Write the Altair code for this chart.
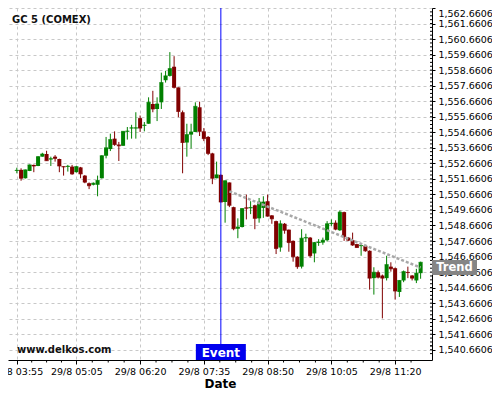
import altair as alt
import pandas as pd

# ---- data (5-minute candles, GC 5 COMEX, 29/8) ----
open_ = [1552.17, 1552.24, 1551.70, 1552.17, 1552.56, 1552.49, 1553.09, 1553.26, 1552.91, 1553.09,
         1552.94, 1552.47, 1552.43, 1552.45, 1552.09, 1552.40, 1551.87, 1551.38, 1551.28, 1551.28,
         1551.70, 1553.15, 1553.58, 1554.25, 1553.87, 1553.79, 1554.70, 1554.91, 1554.91, 1555.57,
         1555.08, 1555.21, 1556.48, 1556.16, 1556.59, 1558.01, 1558.29, 1558.88, 1557.55, 1555.95,
         1554.00, 1554.51, 1554.68, 1556.27, 1554.72, 1554.36, 1553.30, 1551.70, 1551.92, 1550.17,
         1551.43, 1549.84, 1548.45, 1548.56, 1549.82, 1549.77, 1549.96, 1549.12, 1549.79, 1550.22,
         1549.31, 1548.94, 1547.24, 1548.77, 1548.39, 1547.67, 1546.65, 1546.01, 1547.84, 1547.88,
         1546.86, 1547.54, 1547.56, 1547.71, 1548.75, 1548.84, 1548.35, 1549.52, 1547.88, 1547.71,
         1547.46, 1547.33, 1547.35, 1547.03, 1545.27, 1545.65, 1545.44, 1545.27, 1546.01, 1545.91,
         1544.38, 1545.12, 1545.67, 1545.44, 1545.12, 1545.59]
high_ = [1552.38, 1552.34, 1552.26, 1552.58, 1552.58, 1553.12, 1553.34, 1553.47, 1553.09, 1553.19,
         1552.96, 1552.47, 1552.56, 1552.56, 1552.48, 1552.43, 1551.91, 1551.43, 1551.43, 1551.87,
         1553.18, 1554.36, 1554.57, 1554.72, 1554.04, 1554.72, 1555.00, 1555.14, 1555.95, 1555.74,
         1555.32, 1556.91, 1557.33, 1556.91, 1558.50, 1558.61, 1559.82, 1559.56, 1557.55, 1556.06,
         1555.21, 1555.21, 1556.59, 1556.63, 1554.93, 1554.42, 1553.34, 1552.77, 1551.94, 1551.56,
         1551.43, 1549.87, 1549.12, 1549.77, 1550.65, 1550.22, 1550.00, 1550.43, 1550.54, 1550.65,
         1549.33, 1548.97, 1548.99, 1548.82, 1548.40, 1547.70, 1546.68, 1548.42, 1548.13, 1547.92,
         1547.60, 1547.78, 1547.88, 1548.94, 1549.05, 1548.99, 1549.63, 1549.55, 1547.92, 1548.20,
         1547.48, 1547.46, 1547.38, 1547.06, 1545.97, 1545.76, 1545.50, 1546.71, 1546.29, 1545.95,
         1545.15, 1545.76, 1546.01, 1545.47, 1545.87, 1546.33]
low_ = [1552.02, 1551.54, 1551.68, 1552.16, 1552.09, 1552.48, 1553.09, 1552.83, 1552.49, 1552.77,
        1552.09, 1551.87, 1552.13, 1551.92, 1552.07, 1551.70, 1551.38, 1551.00, 1551.24, 1550.54,
        1551.68, 1552.98, 1553.45, 1553.79, 1552.81, 1553.79, 1554.19, 1554.25, 1554.25, 1554.68,
        1554.72, 1555.21, 1555.95, 1555.38, 1556.16, 1557.86, 1558.25, 1557.48, 1555.63, 1552.02,
        1553.09, 1553.61, 1554.68, 1554.42, 1554.09, 1553.19, 1551.32, 1551.70, 1550.15, 1548.84,
        1549.84, 1548.35, 1547.84, 1548.53, 1549.05, 1549.39, 1548.42, 1548.84, 1549.15, 1549.23,
        1548.77, 1546.82, 1546.97, 1548.13, 1546.97, 1546.33, 1545.87, 1545.89, 1547.61, 1546.59,
        1546.29, 1547.35, 1547.42, 1547.63, 1548.63, 1548.35, 1548.31, 1547.67, 1547.67, 1547.35,
        1547.22, 1546.71, 1546.97, 1544.53, 1544.21, 1545.25, 1542.68, 1545.12, 1545.69, 1543.89,
        1544.06, 1545.01, 1545.27, 1545.12, 1544.95, 1545.23]
close_ = [1552.21, 1551.70, 1552.24, 1552.56, 1552.49, 1553.09, 1553.26, 1552.83, 1552.96, 1552.98,
          1552.49, 1552.43, 1552.47, 1551.98, 1552.45, 1551.98, 1551.45, 1551.22, 1551.38, 1551.56,
          1553.15, 1553.66, 1554.19, 1553.87, 1553.79, 1554.72, 1554.74, 1554.95, 1554.95, 1554.93,
          1555.12, 1556.59, 1556.16, 1556.48, 1557.86, 1558.29, 1558.76, 1557.55, 1556.00, 1554.00,
          1554.51, 1554.68, 1556.33, 1554.72, 1554.25, 1553.30, 1551.70, 1551.92, 1550.17, 1551.54,
          1549.96, 1548.45, 1548.56, 1549.75, 1549.77, 1549.82, 1549.12, 1550.17, 1550.17, 1549.26,
          1549.09, 1547.18, 1548.77, 1548.35, 1547.56, 1546.65, 1546.01, 1547.84, 1547.88, 1546.71,
          1547.56, 1547.59, 1547.71, 1548.77, 1548.80, 1548.42, 1549.52, 1547.94, 1547.71, 1547.40,
          1547.24, 1547.37, 1547.03, 1545.27, 1545.65, 1545.33, 1545.27, 1546.14, 1545.87, 1544.44,
          1545.12, 1545.69, 1545.63, 1545.27, 1545.59, 1546.29]

times = pd.date_range("2019-08-29 03:55", periods=len(open_), freq="5min")

trend_times = ["2019-08-29T08:05:00Z", "2019-08-29T11:50:00Z"]
trend_values = [1550.86, 1545.95]
event_time = ["2019-08-29T07:55:00Z"]

y_ticks = [1540.6606, 1541.6606, 1542.6606, 1543.6606, 1544.6606, 1545.6606, 1546.6606,
           1547.6606, 1548.6606, 1549.6606, 1550.6606, 1551.6606, 1552.6606, 1553.6606,
           1554.6606, 1555.6606, 1556.6606, 1557.6606, 1558.6606, 1559.6606, 1560.6606,
           1561.6606, 1562.6606]
x_tick_times = [(3, 55), (5, 5), (6, 20), (7, 35), (8, 50), (10, 5), (11, 20)]
x_minor_times = ["2019-08-29T04:12:30Z", "2019-08-29T04:30:00Z", "2019-08-29T04:47:30Z",
                 "2019-08-29T05:23:45Z", "2019-08-29T05:42:30Z", "2019-08-29T06:01:15Z",
                 "2019-08-29T06:38:45Z", "2019-08-29T06:57:30Z", "2019-08-29T07:16:15Z",
                 "2019-08-29T07:53:45Z", "2019-08-29T08:12:30Z", "2019-08-29T08:31:15Z",
                 "2019-08-29T09:08:45Z", "2019-08-29T09:27:30Z", "2019-08-29T09:46:15Z",
                 "2019-08-29T10:23:45Z", "2019-08-29T10:42:30Z", "2019-08-29T11:01:15Z",
                 "2019-08-29T11:38:45Z"]
y_minor_ticks = [t + k for t in [1540.4106] + y_ticks[:-1] for k in (0.0, 0.5)] + \
                [t + k for t in y_ticks[:-1] for k in (0.25, 0.75)]

title_text = "GC 5 (COMEX)"
site_text = "www.delkos.com"

# ---- layout ----
W, H = 424, 352
FONT = "DejaVu Sans"
GREEN, RED = "#008000", "#800000"

df = pd.DataFrame({
    "t": times.strftime("%Y-%m-%dT%H:%M:%SZ"),
    "open": open_, "high": high_, "low": low_, "close": close_,
})
df["dir"] = ["up" if c >= o else "down" for o, c in zip(open_, close_)]

trend_df = pd.DataFrame({"t": trend_times, "v": trend_values})
event_df = pd.DataFrame({"t": event_time, "label": ["Event"]})
trend_lbl_df = pd.DataFrame({"v": [trend_values[-1]], "label": ["Trend"]})
xminor_df = pd.DataFrame({"t": x_minor_times})
yminor_df = pd.DataFrame({"v": [v for v in y_minor_ticks if 1540.0 <= v <= 1562.6606]})


def dt(h, m, s=0):
    return alt.DateTime(year=2019, month=8, date=29, hours=h, minutes=m, seconds=s, utc=True)


xscale = alt.Scale(type="utc", domain=[dt(3, 50, 30), dt(11, 57, 30)])
xaxis = alt.Axis(values=[dt(h, m) for h, m in x_tick_times], format="%-d/%-m %H:%M",
                 title="Date", titleFont=FONT, titleFontSize=12, titleFontWeight="bold",
                 titleColor="black", titlePadding=3,
                 labelFont=FONT, labelFontSize=9.5, labelColor="black", labelPadding=2,
                 labelFlush=False, labelOverlap=False,
                 tickSize=4, tickColor="black", domainColor="black",
                 grid=True, gridDash=[3, 3], gridColor="#c8c8c8")
yscale = alt.Scale(domain=[1540.0, 1562.6606], nice=False, zero=False)
yaxis = alt.Axis(orient="right", values=y_ticks, format=",.4f", title=None,
                 labelFont=FONT, labelFontSize=9.5, labelColor="black", labelPadding=3,
                 labelFlush=True, labelOverlap=False,
                 tickSize=3, tickColor="black", domainColor="black",
                 grid=True, gridDash=[3, 3], gridColor="#c8c8c8")

X = alt.X("t:T", scale=xscale, axis=xaxis)
color = alt.Color("dir:N", scale=alt.Scale(domain=["up", "down"], range=[GREEN, RED]), legend=None)

base = alt.Chart(df)
wicks = base.mark_rule(strokeWidth=1).encode(
    x=X, y=alt.Y("low:Q", scale=yscale, axis=yaxis), y2="high:Q", color=color)
bodies = base.mark_bar(size=4).encode(
    x=X, y=alt.Y("open:Q", scale=yscale, axis=yaxis), y2="close:Q", color=color)
caps = base.mark_tick(orient="horizontal", size=4, thickness=1).encode(
    x=X, y=alt.Y("close:Q", scale=yscale, axis=yaxis), color=color)

trend = alt.Chart(trend_df).mark_line(strokeDash=[3, 2], strokeWidth=2.5, color="#a8a8a8").encode(
    x=X, y=alt.Y("v:Q", scale=yscale, axis=yaxis))

xminor = alt.Chart(xminor_df).mark_rule(color="black", strokeWidth=1).encode(
    x=X, y=alt.value(H), y2=alt.value(H + 2.5))
yminor = alt.Chart(yminor_df).mark_rule(color="black", strokeWidth=1).encode(
    y=alt.Y("v:Q", scale=yscale, axis=yaxis), x=alt.value(W - 2), x2=alt.value(W + 1))

event_rule = alt.Chart(event_df).mark_rule(color="#0000ff", strokeWidth=1).encode(x=X)
event_box = alt.Chart(event_df).mark_point(
    shape="M-1,-0.32H1V0.32H-1Z", size=2500, filled=True, opacity=1, strokeWidth=0,
    color="#0000ee").encode(x=X, y=alt.value(H - 8))
event_txt = alt.Chart(event_df).mark_text(
    font=FONT, fontSize=12, fontWeight="bold", color="white", baseline="middle").encode(
    x=X, y=alt.value(H - 7.5), text="label:N")

trend_box = alt.Chart(trend_lbl_df).mark_point(
    shape="M-1,-0.333H1V0.333H-1Z", size=2025, filled=True, opacity=1, strokeWidth=0,
    color="#858585").encode(x=alt.value(W + 22.5), y=alt.Y("v:Q", scale=yscale, axis=yaxis))
trend_txt = alt.Chart(trend_lbl_df).mark_text(
    font=FONT, fontSize=11.5, fontWeight="bold", color="white", baseline="middle").encode(
    x=alt.value(W + 22.5), y=alt.Y("v:Q", scale=yscale, axis=yaxis), text="label:N")

title = alt.Chart(pd.DataFrame({"label": [title_text]})).mark_text(
    font=FONT, fontSize=10, fontWeight="bold", color="#111111", align="left", baseline="middle").encode(
    x=alt.value(4), y=alt.value(11.5), text="label:N")
site = alt.Chart(pd.DataFrame({"label": [site_text]})).mark_text(
    font=FONT, fontSize=10, fontWeight="bold", color="#111111", align="left", baseline="middle").encode(
    x=alt.value(9), y=alt.value(H - 10), text="label:N")

chart = alt.layer(
    wicks, bodies, caps, trend, xminor, yminor, event_rule, event_box, event_txt,
    trend_box, trend_txt, title, site
).properties(
    width=W, height=H,
    autosize=alt.AutoSizeParams(type="none"),
    padding={"left": 0, "top": 0, "right": 60, "bottom": 32},
    background="white",
).configure_view(strokeWidth=0)

chart.save("out.html", embed_options={"renderer": "svg", "actions": False})
